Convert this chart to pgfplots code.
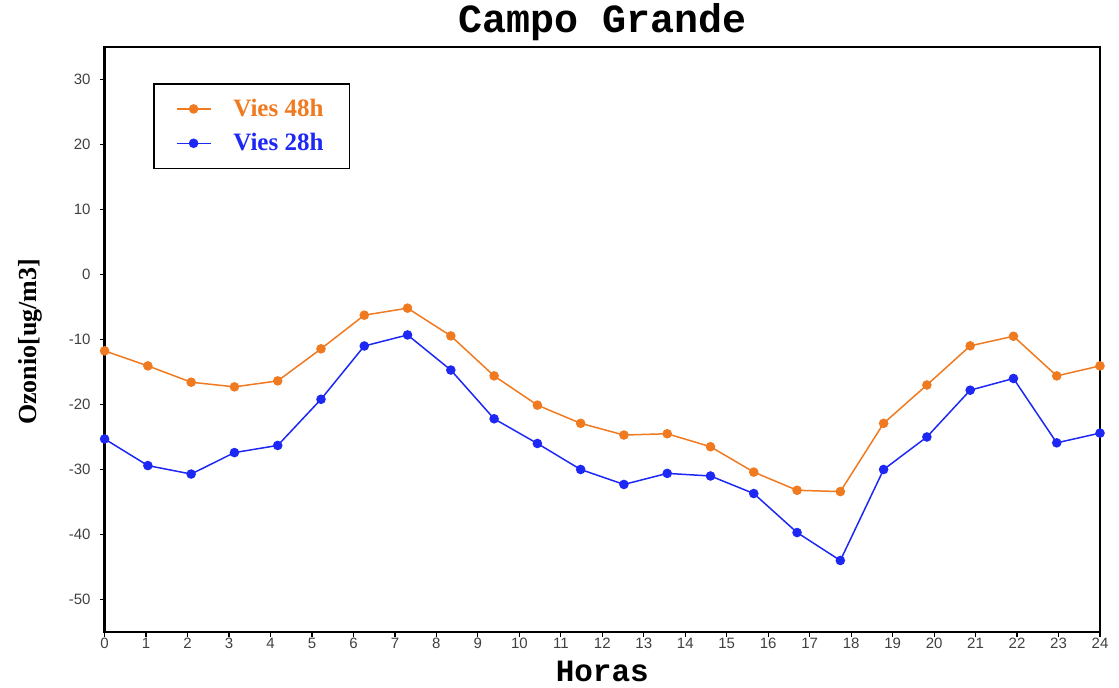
\documentclass[border=0pt]{standalone}
\usepackage{fontspec}
\setmainfont{Liberation Sans}
\newfontfamily\serifb{Liberation Serif}
\newfontfamily\monob{Liberation Mono}
\usepackage{pgfplots}
\pgfplotsset{compat=1.18}
\definecolor{orng}{RGB}{240,122,32}
\definecolor{blu}{RGB}{30,40,245}
\begin{document}
\begin{tikzpicture}
\useasboundingbox (-52.3pt,-28pt) rectangle (507.2pt,316pt);
\begin{axis}[
  name=ax,
  scale only axis, width=497.7pt, height=292.5pt,
  at={(0,0)}, anchor=south west,
  xmin=0, xmax=24, ymin=-55, ymax=35,
  xtick={0,1,...,24}, ytick={-50,-40,...,30},
  tick align=outside, tickpos=left, major tick length=2.5pt,
  axis line style={line width=1.2pt},
  tick style={black, line width=0.6pt},
  ticklabel style={font=\fontsize{7.5}{9}\selectfont, text=black!75},
  xticklabel style={yshift=3pt},
  yticklabel style={xshift=-1pt},
  /pgf/number format/assume math mode=true,
  xlabel={\monob\bfseries Horas},
  xlabel style={at={(axis description cs:0.5,-0.068)}, anchor=center, font=\fontsize{15.5}{17}\selectfont},
  ylabel={\serifb\bfseries Ozonio[ug/m3]},
  ylabel style={at={(axis description cs:-0.075,0.496)}, anchor=center, font=\fontsize{13}{15}\selectfont},
  legend style={at={(0.0486,0.9385)}, anchor=north west, draw=black, line width=0.8pt,
    inner xsep=11pt, inner ysep=5.5pt, row sep=3pt,
    font=\serifb\bfseries\fontsize{12.5}{13.5}\selectfont},
  legend cell align=left,
]
\addplot[orng, line width=0.75pt, mark=*, mark size=2pt, mark options={solid, fill=orng, draw=orng}] coordinates {
(0,-11.75) (1.0435,-14.06) (2.0870,-16.57) (3.1304,-17.29) (4.1739,-16.37) (5.2174,-11.44)
(6.2609,-6.26) (7.3043,-5.18) (8.3478,-9.45) (9.3913,-15.6) (10.4348,-20.1) (11.4783,-22.9)
(12.5217,-24.7) (13.5652,-24.5) (14.6087,-26.5) (15.6522,-30.4) (16.6957,-33.2) (17.7391,-33.4)
(18.7826,-22.9) (19.8261,-17.0) (20.8696,-10.98) (21.9130,-9.5) (22.9565,-15.6) (24,-14.06)
};
\addlegendentry{\hspace{9pt}\textcolor{orng}{Vies 48h}\hspace{3pt}}
\addplot[blu, line width=0.75pt, mark=*, mark size=2pt, mark options={solid, fill=blu, draw=blu}] coordinates {
(0,-25.3) (1.0435,-29.4) (2.0870,-30.7) (3.1304,-27.4) (4.1739,-26.3) (5.2174,-19.2)
(6.2609,-11.0) (7.3043,-9.3) (8.3478,-14.7) (9.3913,-22.2) (10.4348,-26.0) (11.4783,-30.0)
(12.5217,-32.3) (13.5652,-30.6) (14.6087,-31.0) (15.6522,-33.7) (16.6957,-39.7) (17.7391,-44.0)
(18.7826,-30.0) (19.8261,-25.0) (20.8696,-17.8) (21.9130,-16.0) (22.9565,-25.9) (24,-24.4)
};
\addlegendentry{\hspace{9pt}\textcolor{blu}{Vies 28h}\hspace{3pt}}
\end{axis}
\node[font=\monob\bfseries\fontsize{20}{22}\selectfont, anchor=center] at ([yshift=12.5pt]ax.north) {Campo Grande};
\end{tikzpicture}
\end{document}
